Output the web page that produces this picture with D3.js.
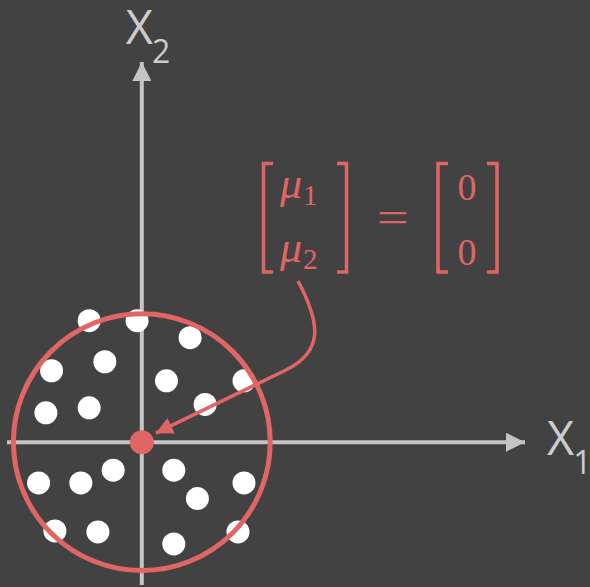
<!DOCTYPE html>
<html>
<head>
<meta charset="utf-8">
<script src="https://cdn.jsdelivr.net/npm/d3@7"></script>
<style>
  html, body { margin: 0; padding: 0; background: #424242; }
  svg { display: block; }
  .axis-label { font-family: "Open Sans"; }
  .math { font-family: "Liberation Serif"; }
</style>
</head>
<body>
<svg id="chart" width="590" height="587"></svg>
<script>
// Sample points (in units of the circle radius)
const pointX = [-0.410, -0.037, 0.376, -0.703, -0.288, 0.192, 0.796, -0.747, -0.410, 0.493,
                -0.223, -0.475, -0.804, 0.249, 0.433, 0.796, -0.677, -0.342, 0.249, 0.749];
const pointY = [0.944, 0.944, 0.812, 0.555, 0.625, 0.477, 0.477, 0.228, 0.267, 0.293,
                -0.218, -0.317, -0.317, -0.218, -0.438, -0.317, -0.690, -0.698, -0.791, -0.698];
// Mean vector and circle radius
const mean = [0, 0];
const radius = 1;
const meanLabels = ["1", "2"];
const meanValues = ["0", "0"];
const axisLabels = ["1", "2"];

const RED = "#e06666";
const AXIS = "#c4c4c4";
const LABEL = "#cccccc";

const svg = d3.select("#chart");
const x = d3.scaleLinear().domain([-1.05, 3.0]).range([7, 527]);
const y = d3.scaleLinear().domain([-1.11, 2.97]).range([585, 60]);
const unit = x(1) - x(0);

const defs = svg.append("defs");
defs.append("marker").attr("id", "axisHead")
  .attr("viewBox", "0 0 10 10").attr("refX", 10).attr("refY", 5)
  .attr("markerUnits", "userSpaceOnUse").attr("markerWidth", 24).attr("markerHeight", 19)
  .attr("orient", "auto")
  .append("path").attr("d", "M0,0 L10,5 L0,10 Z").attr("fill", AXIS);
defs.append("marker").attr("id", "redHead")
  .attr("viewBox", "0 0 10 10").attr("refX", 10).attr("refY", 5)
  .attr("markerUnits", "userSpaceOnUse").attr("markerWidth", 26).attr("markerHeight", 17)
  .attr("orient", "auto")
  .append("path").attr("d", "M0,0 L10,5 L0,10 Z").attr("fill", RED);

// Axes
const xDom = x.domain(), yDom = y.domain();
svg.append("line")
  .attr("x1", x(xDom[0])).attr("y1", y(0)).attr("x2", x(xDom[1]) - 2).attr("y2", y(0))
  .attr("stroke", AXIS).attr("stroke-width", 4).attr("marker-end", "url(#axisHead)");
svg.append("line")
  .attr("x1", x(0)).attr("y1", y(yDom[0])).attr("x2", x(0)).attr("y2", y(yDom[1]) + 2)
  .attr("stroke", AXIS).attr("stroke-width", 4).attr("marker-end", "url(#axisHead)");

// Axis labels X1 and X2
function axisLabel(px, py, sub) {
  const t = svg.append("text").attr("class", "axis-label").attr("x", px).attr("y", py)
    .style("font-size", "47px").attr("fill", LABEL);
  t.append("tspan").text("X");
  t.append("tspan").style("font-size", "32px").attr("dx", -1).attr("dy", 19).text(sub);
}
axisLabel(x(xDom[1]) + 20, y(0) + 13, axisLabels[0]);
axisLabel(x(0) - 16, y(yDom[1]) - 16, axisLabels[1]);

// Data points
svg.append("g").selectAll("circle").data(pointX.map((v, i) => [v, pointY[i]]))
  .join("circle")
  .attr("cx", d => x(d[0])).attr("cy", d => y(d[1])).attr("r", 11.5)
  .attr("fill", "#ffffff");

// Circle around the mean
svg.append("circle")
  .attr("cx", x(mean[0])).attr("cy", y(mean[1])).attr("r", radius * unit)
  .attr("fill", "none").attr("stroke", RED).attr("stroke-width", 5);

// Mean point
svg.append("circle")
  .attr("cx", x(mean[0])).attr("cy", y(mean[1])).attr("r", 12)
  .attr("fill", RED);

// Curved arrow from the label to the mean
const tip = [x(mean[0]) + 14, y(mean[1]) - 9];
const arrowPath = d3.path();
arrowPath.moveTo(298, 281);
arrowPath.bezierCurveTo(322, 326, 322, 352, 286, 370);
arrowPath.lineTo(tip[0], tip[1]);
svg.append("path").attr("d", arrowPath.toString())
  .attr("fill", "none").attr("stroke", RED).attr("stroke-width", 3.5)
  .attr("marker-end", "url(#redHead)");

// Matrix label: [mu1; mu2] = [0; 0]
function bracket(xv, xTick) {
  svg.append("path")
    .attr("d", `M${xTick},163.5 L${xv},163.5 L${xv},272 L${xTick},272`)
    .attr("fill", "none").attr("stroke", RED).attr("stroke-width", 3.5);
}
bracket(263.5, 273);
bracket(346.5, 337);
bracket(438, 448);
bracket(497, 487);

[198, 262].forEach((by, i) => {
  const t = svg.append("text").attr("class", "math").attr("x", 280).attr("y", by)
    .style("font-size", "44px").attr("fill", RED);
  t.append("tspan").style("font-style", "italic").text("μ");
  t.append("tspan").style("font-size", "29px").attr("dx", 1).attr("dy", 7).text(meanLabels[i]);
});
svg.append("text").attr("class", "math").attr("x", 377).attr("y", 232)
  .style("font-size", "44px").attr("fill", RED)
  .attr("textLength", 32).attr("lengthAdjust", "spacingAndGlyphs").text("=");
[200, 265].forEach((by, i) => {
  svg.append("text").attr("class", "math").attr("x", 467).attr("y", by)
    .attr("text-anchor", "middle")
    .style("font-size", "38px").attr("fill", RED)
    .text(meanValues[i]);
});
</script>
</body>
</html>
